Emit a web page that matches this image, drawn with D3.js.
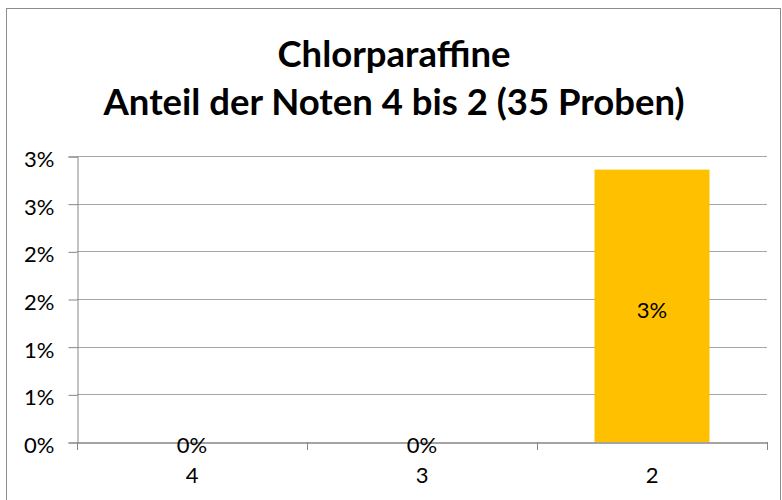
<!DOCTYPE html>
<html><head><meta charset="utf-8">
<script src="https://cdn.jsdelivr.net/npm/d3@7"></script>
<style>body{margin:0;background:#fff;} text{font-family:Lato,"Open Sans",sans-serif;}</style>
</head><body>
<svg id="c" width="782" height="500"></svg>
<script>
const categories = ["4", "3", "2"];
const values = [0, 0, 1/35];
const yTicks = [0, 0.005, 0.01, 0.015, 0.02, 0.025, 0.03];
const titleLines = ["Chlorparaffine", "Anteil der Noten 4 bis 2 (35 Proben)"];

const svg = d3.select("#c");
svg.append("rect").attr("x",6.5).attr("y",8.5).attr("width",774).attr("height",500)
  .attr("fill","#fff").attr("stroke","#8c8c8c").attr("stroke-width",1);

const m = {left:77, right:767, top:156, bottom:442};
const x = d3.scaleBand().domain(categories).range([m.left, m.right]).paddingInner(0.5).paddingOuter(0.25);
const xb = d3.scaleBand().domain(categories).range([m.left, m.right]);
const y = d3.scaleLinear().domain([0, 0.03]).range([m.bottom, m.top]);
const fs = 22;

// title
svg.append("g").selectAll("text").data(titleLines).join("text")
  .attr("x", 394).attr("y", (d,i)=> i===0 ? 67 : 115)
  .attr("text-anchor","middle").attr("font-weight","bold").attr("font-size",36.5)
  .attr("fill","#000").text(d=>d);

// gridlines
svg.append("g").selectAll("line").data(yTicks.filter(t=>t>0)).join("line")
  .attr("x1", m.left).attr("x2", m.right)
  .attr("y1", d=>Math.round(y(d))+0.5).attr("y2", d=>Math.round(y(d))+0.5)
  .attr("stroke","#a6a6a6").attr("stroke-width",1);

// y axis
const yAxis = d3.axisLeft(y).tickValues(yTicks).tickSize(9).tickPadding(14)
  .tickFormat(d=>d3.format(".0%")(d));
const gy = svg.append("g").attr("transform",`translate(${m.left+0.5},0.5)`).call(yAxis);
gy.select(".domain").attr("stroke","#868686");
gy.selectAll(".tick line").attr("stroke","#868686");
gy.selectAll(".tick text").attr("font-size",fs).attr("fill","#000").attr("dy","0.45em")
  .style("font-family","Lato,sans-serif");

// bars
svg.append("g").selectAll("rect").data(values).join("rect")
  .attr("x",(d,i)=>x(categories[i])).attr("width",x.bandwidth())
  .attr("y",d=>y(d)).attr("height",d=>y(0)-y(d)).attr("fill","#ffc000");

// x axis
const xAxis = d3.axisBottom(xb).tickSize(0).tickPadding(25);
const gx = svg.append("g").attr("transform",`translate(0,${m.bottom+0.5})`).call(xAxis);
gx.select(".domain").attr("stroke","#868686").attr("stroke-width",1.5);
gx.selectAll(".tick text").attr("font-size",fs).attr("fill","#000").style("font-family","Lato,sans-serif");
// category boundary ticks
svg.append("g").selectAll("line").data([...categories.map(c=>xb(c)), m.right]).join("line")
  .attr("x1",d=>d+0.5).attr("x2",d=>d+0.5).attr("y1",m.bottom).attr("y2",m.bottom+8)
  .attr("stroke","#868686");

// value labels
svg.append("g").selectAll("text").data(values).join("text")
  .attr("x",(d,i)=>x(categories[i])+x.bandwidth()/2)
  .attr("y",d=> d>0 ? (y(d)+y(0))/2 + 12.5 : y(0)+11)
  .attr("text-anchor","middle").attr("font-size",fs).attr("fill","#000")
  .text(d=>d3.format(".0%")(d));
</script>
</body></html>
